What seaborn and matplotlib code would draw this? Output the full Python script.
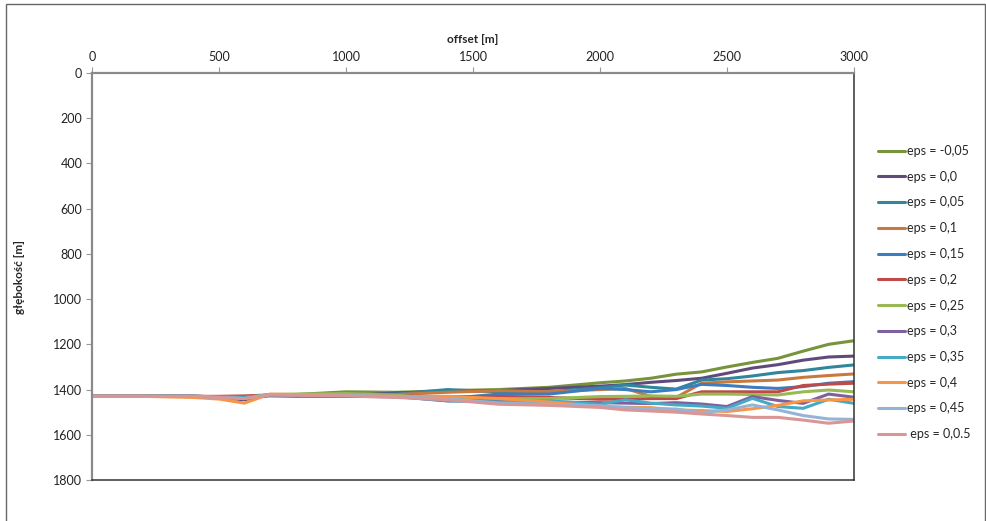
import pandas as pd
import matplotlib
matplotlib.use("Agg")
import matplotlib.pyplot as plt
import seaborn as sns

sns.set_theme(style="white")
plt.rcParams["font.family"] = ["Lato", "DejaVu Sans"]

# offset [m]
offset = [0, 200, 400, 500, 600, 700, 800, 1000, 1200, 1400, 1600, 1800,
          2000, 2100, 2200, 2300, 2400, 2500, 2600, 2700, 2800, 2900, 3000]

# glebokosc [m] for each eps
eps_m005 = [1430, 1430, 1430, 1432, 1435, 1425, 1422, 1410, 1412, 1405, 1400, 1390,
            1370, 1362, 1350, 1332, 1322, 1300, 1280, 1262, 1230, 1200, 1184]
eps_000 = [1430, 1430, 1430, 1438, 1445, 1425, 1425, 1428, 1415, 1408, 1405, 1395,
           1385, 1378, 1368, 1360, 1350, 1328, 1305, 1290, 1270, 1256, 1252]
eps_005 = [1430, 1430, 1430, 1432, 1435, 1424, 1424, 1425, 1420, 1400, 1410, 1410,
           1392, 1380, 1390, 1398, 1358, 1352, 1340, 1325, 1316, 1302, 1291]
eps_010 = [1430, 1430, 1430, 1432, 1435, 1424, 1424, 1425, 1422, 1412, 1405, 1410,
           1400, 1395, 1430, 1435, 1372, 1366, 1362, 1358, 1346, 1338, 1331]
eps_015 = [1430, 1430, 1430, 1432, 1435, 1424, 1424, 1425, 1425, 1440, 1420, 1420,
           1395, 1400, 1410, 1400, 1377, 1382, 1390, 1395, 1387, 1372, 1365]
eps_020 = [1430, 1430, 1430, 1430, 1428, 1424, 1424, 1425, 1428, 1432, 1430, 1435,
           1443, 1442, 1440, 1440, 1410, 1410, 1410, 1410, 1382, 1376, 1372]
eps_025 = [1430, 1430, 1430, 1432, 1435, 1422, 1420, 1418, 1425, 1445, 1440, 1440,
           1431, 1430, 1428, 1430, 1420, 1420, 1422, 1424, 1410, 1402, 1410]
eps_030 = [1430, 1430, 1430, 1432, 1435, 1428, 1430, 1430, 1432, 1450, 1450, 1455,
           1458, 1460, 1462, 1458, 1464, 1475, 1431, 1448, 1461, 1420, 1434]
eps_035 = [1430, 1430, 1430, 1432, 1435, 1424, 1424, 1425, 1430, 1450, 1455, 1450,
           1465, 1445, 1460, 1468, 1473, 1483, 1439, 1475, 1483, 1443, 1461]
eps_040 = [1430, 1430, 1435, 1442, 1460, 1420, 1422, 1425, 1430, 1430, 1440, 1455,
           1475, 1478, 1480, 1490, 1493, 1497, 1485, 1470, 1450, 1446, 1443]
eps_045 = [1430, 1430, 1430, 1435, 1440, 1422, 1424, 1425, 1432, 1440, 1460, 1465,
           1472, 1480, 1485, 1486, 1502, 1490, 1468, 1490, 1515, 1530, 1532]
eps_050 = [1430, 1430, 1430, 1435, 1440, 1424, 1425, 1428, 1435, 1445, 1465, 1470,
           1479, 1490, 1495, 1500, 1508, 1515, 1523, 1523, 1535, 1549, 1539]

labels = ["eps = -0,05", "eps = 0,0", "eps = 0,05", "eps = 0,1", "eps = 0,15",
          "eps = 0,2", "eps = 0,25", "eps = 0,3", "eps = 0,35", "eps = 0,4",
          "eps = 0,45", " eps = 0,0.5"]
series = [eps_m005, eps_000, eps_005, eps_010, eps_015, eps_020,
          eps_025, eps_030, eps_035, eps_040, eps_045, eps_050]
colors = ["#77933C", "#604A7B", "#31859C", "#C9793E", "#3C7DC0", "#BE4B48",
          "#98B954", "#7D60A0", "#46AAC5", "#F79646", "#95B3D7", "#D99694"]

rows = []
for lab, vals in zip(labels, series):
    for x, y in zip(offset, vals):
        rows.append({"offset": x, "depth": y, "eps": lab})
df = pd.DataFrame(rows)

fig = plt.figure(figsize=(9.87, 5.21), dpi=100)
ax = fig.add_axes([92 / 987, 1 - 480 / 521, 762 / 987, 407 / 521])

sns.lineplot(data=df, x="offset", y="depth", hue="eps", hue_order=labels,
             palette=colors, linewidth=2.2, ax=ax, sort=False, legend=True)

ax.set_xlim(0, 3000)
ax.set_ylim(1800, 0)
ax.set_xticks([0, 500, 1000, 1500, 2000, 2500, 3000])
ax.set_yticks(range(0, 2000, 200))
ax.xaxis.tick_top()
ax.xaxis.set_label_position("top")
ax.tick_params(axis="both", which="major", labelsize=9, colors="#222222",
               length=4, width=0.8, direction="out", pad=3)
ax.tick_params(axis="x", color="#999999", top=True, bottom=False)
ax.tick_params(axis="y", color="#999999", left=True)
ax.set_xlabel("offset [m]", fontsize=8.5, fontweight="bold", labelpad=6)
ax.set_ylabel("głębokość [m]", fontsize=8.5, fontweight="bold", labelpad=20)

for side in ["left", "top"]:
    ax.spines[side].set_color("#8A8A8A")
    ax.spines[side].set_linewidth(1.6)
for side in ["right", "bottom"]:
    ax.spines[side].set_color("#333333")
    ax.spines[side].set_linewidth(1.1)

handles, labs = ax.get_legend_handles_labels()
ax.legend(handles, labs, loc="upper left", bbox_to_anchor=(878 / 987, 1 - 145 / 521),
          bbox_transform=fig.transFigure, frameon=False, fontsize=9,
          handlelength=2.2, handletextpad=0.1, labelspacing=1.1,
          borderpad=0, borderaxespad=0)

# outer chart border
border = plt.Rectangle((6 / 987, -0.05), 979 / 987, 1.05 - 4 / 521,
                       transform=fig.transFigure, fill=False,
                       edgecolor="#666666", linewidth=1.0)
fig.patches.append(border)

fig.savefig("out.png", dpi=100)
